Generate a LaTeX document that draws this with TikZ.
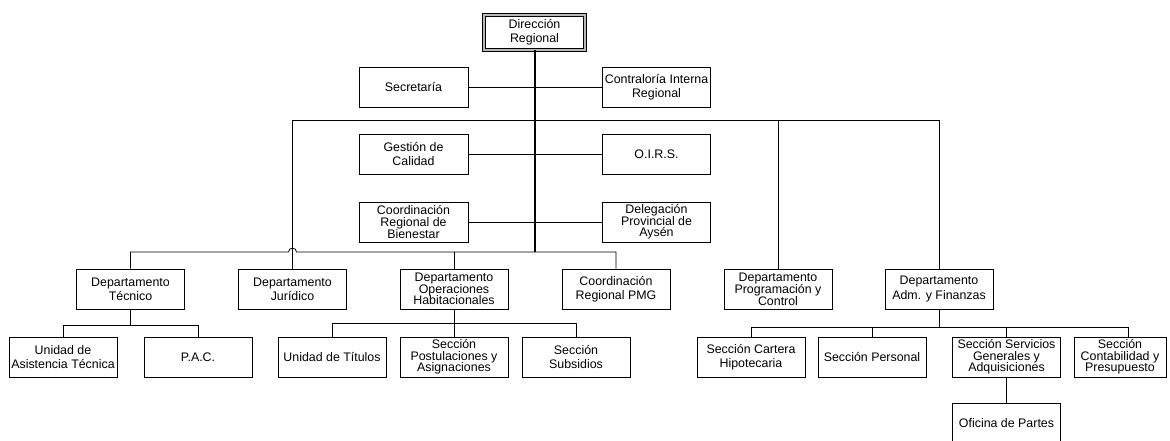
\documentclass[tikz,border=0pt]{standalone}
\usepackage{fontspec}
\setmainfont{Liberation Sans}
\begin{document}
\begin{tikzpicture}[x=1pt,y=-1pt,
  box/.style={draw=black,line width=0.8pt,rectangle,inner sep=0pt,minimum width=108pt,minimum height=40pt,align=center,font=\fontsize{12.4}{14.3}\selectfont},
  tight/.style={box,font=\fontsize{12.4}{11.6}\selectfont},
  link/.style={draw=black,line width=0.8pt},
  trunk/.style={draw=black,line width=2pt}]
\useasboundingbox (0,0) rectangle (1170,440);
\clip (0,0) rectangle (1170,440);
\fill[white] (0,0) rectangle (1170,440);
% nodes
\node[box,draw=black,double=gray!55,double distance=1.6pt,line width=0.8pt,minimum width=101pt,minimum height=35pt] (dir) at (534.5,32.5) {Dirección\\Regional};
\node[box,minimum width=109pt] (sec) at (413.5,87) {Secretaría};
\node[box] (con) at (656.5,87) {Contraloría Interna\\Regional};
\node[box,minimum width=109pt] (ges) at (413.5,154) {Gestión de\\Calidad};
\node[box] (oirs) at (656.5,154) {O.I.R.S.};
\node[tight,minimum width=109pt] (coo) at (413.5,222) {Coordinación\\Regional de\\Bienestar};
\node[tight] (del) at (656.5,222) {Delegación\\Provincial de\\Aysén};
\node[box] (tec) at (130.5,289) {Departamento\\Técnico};
\node[box] (jur) at (292.5,289) {Departamento\\Jurídico};
\node[tight] (ops) at (454,289) {Departamento\\Operaciones\\Habitacionales};
\node[box] (pmg) at (616,289) {Coordinación\\Regional PMG};
\node[tight] (prog) at (778,289) {Departamento\\Programación y\\Control};
\node[box] (adm) at (939,289) {Departamento\\Adm. y Finanzas};
\node[box] (uat) at (63,357) {Unidad de\\Asistencia Técnica};
\node[box] (pac) at (198,357) {P.A.C.};
\node[box] (tit) at (332,357) {Unidad de Títulos};
\node[tight] (pos) at (454,357) {Sección\\Postulaciones y\\Asignaciones};
\node[box] (sub) at (576,357) {Sección\\Subsidios};
\node[box] (car) at (751,357) {Sección Cartera\\Hipotecaria};
\node[box] (per) at (872,357) {Sección Personal};
\node[tight] (ser) at (1006.5,357) {Sección Servicios\\Generales y\\Adquisiciones};
\node[tight,minimum width=92pt] (cnt) at (1120,357) {Sección\\Contabilidad y\\Presupuesto};
\node[box] (ofi) at (1006.5,423) {Oficina de Partes};
% coordinates
\coordinate (busU) at (534.5,120);
\coordinate (hopL) at (288.5,252);
\coordinate (busL) at (534.5,252);
\path (tec.south) ++(0,16) coordinate (tb);
\path (ops.south) ++(0,14) coordinate (ob);
\path (adm.south) ++(0,18) coordinate (ab);
\coordinate (cntc) at ([xshift=8pt]cnt.north);
% trunk
\draw[trunk] (dir.south) -- (busL);
% staff lines
\draw[link] (sec.east) -- (con.west);
\draw[link] (ges.east) -- (oirs.west);
\draw[link] (coo.east) -- (del.west);
% upper bus
\draw[link] (jur.north) |- (adm.north |- busU) -- (adm.north);
\draw[link] (prog.north) -- (prog.north |- busU);
% lower bus with hop
\draw[link] (tec.north) |- (hopL) arc[start angle=180,end angle=0,radius=4pt] -| (pmg.north);
\draw[link] (ops.north) -- (ops.north |- busL);
% children
\draw[link] (tec.south) -- (tb);
\draw[link] (uat.north) |- (pac.north |- tb) -- (pac.north);
\draw[link] (ops.south) -- (pos.north);
\draw[link] (tit.north) |- (sub.north |- ob) -- (sub.north);
\draw[link] (adm.south) -- (ab);
\draw[link] (car.north) |- (cntc |- ab) -- (cntc);
\draw[link] (per.north) -- (per.north |- ab);
\draw[link] (ser.north) -- (ser.north |- ab);
\draw[link] (ser.south) -- (ofi.north);
\end{tikzpicture}
\end{document}
